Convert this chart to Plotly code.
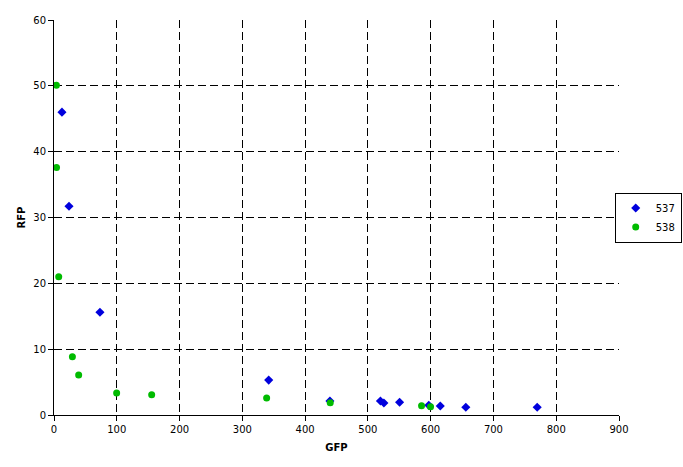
import plotly.graph_objects as go

# Series 537 (blue diamonds)
gfp_537 = [12.7, 23.9, 73.2, 342, 439.5, 520, 525.5, 550.5, 597, 615.3, 656, 769.7]
rfp_537 = [46.0, 31.7, 15.6, 5.3, 2.13, 2.13, 1.82, 1.93, 1.47, 1.37, 1.17, 1.17]

# Series 538 (green circles)
gfp_538 = [3.8, 4.0, 7.5, 29.3, 39.3, 99.8, 155.6, 338.7, 440, 585.5, 599.8]
rfp_538 = [50.1, 37.6, 21.0, 8.86, 6.08, 3.34, 3.09, 2.58, 1.87, 1.42, 1.27]

series_names = ["537", "538"]
x_ticks = [0, 100, 200, 300, 400, 500, 600, 700, 800, 900]
y_ticks = [0, 10, 20, 30, 40, 50, 60]

font_family = "Verdana, DejaVu Sans, sans-serif"

fig = go.Figure()
fig.add_trace(go.Scatter(
    x=gfp_537, y=rfp_537, mode="markers", name=series_names[0],
    marker=dict(symbol="diamond", size=7, color="#0000dd"),
))
fig.add_trace(go.Scatter(
    x=gfp_538, y=rfp_538, mode="markers", name=series_names[1],
    marker=dict(symbol="circle", size=7, color="#00bb00"),
))

axis_common = dict(
    showgrid=True, gridcolor="black", griddash="8px,4px", gridwidth=1,
    showline=True, linecolor="black", linewidth=1,
    ticks="outside", ticklen=5, tickcolor="black",
    zeroline=False, automargin=False,
    tickfont=dict(size=10, family=font_family, color="black"),
)

fig.update_xaxes(
    range=[0, 900], tickvals=x_ticks, ticktext=[str(v) for v in x_ticks],
    title=dict(text="<b>GFP</b>", font=dict(size=10, family=font_family, color="black"), standoff=9),
    **axis_common,
)
fig.update_yaxes(
    range=[0, 60], tickvals=y_ticks, ticktext=[str(v) for v in y_ticks],
    title=dict(text="<b>RFP</b>", font=dict(size=10, family=font_family, color="black"), standoff=5),
    **axis_common,
)

fig.update_layout(
    width=683, height=467,
    margin=dict(l=54, r=64, t=20, b=52, autoexpand=False),
    paper_bgcolor="white", plot_bgcolor="white",
    font=dict(family=font_family, size=10, color="black"),
    legend=dict(
        x=1.111, y=0.5, xanchor="right", yanchor="middle",
        bordercolor="black", borderwidth=1, bgcolor="white",
        font=dict(size=10, family=font_family, color="black"),
        itemwidth=30, tracegroupgap=0,
    ),
)

fig.write_html("out.html", config={"displayModeBar": False},
               post_script="document.body.style.margin='0';")
